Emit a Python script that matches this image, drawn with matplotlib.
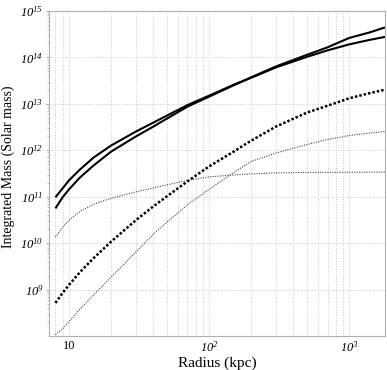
import matplotlib
matplotlib.use("Agg")
import matplotlib.pyplot as plt
from matplotlib.ticker import LogLocator, NullFormatter, FixedLocator, FixedFormatter

plt.rcParams['font.family'] = ['Liberation Serif', 'DejaVu Serif']
plt.rcParams['mathtext.fontset'] = 'custom'
plt.rcParams['mathtext.rm'] = 'Liberation Serif:italic'
plt.rcParams['mathtext.it'] = 'Liberation Serif:italic'
plt.rcParams['mathtext.default'] = 'it'

# radius in kpc, masses in solar masses
radius = [8, 9, 10, 12, 15, 20, 30, 40, 50, 70, 100, 150, 200, 300, 500, 700, 1000, 1400, 1800]

mass_a = [9.7e10, 1.51e11, 2.25e11, 3.87e11, 7.0e11, 1.27e12, 2.53e12, 3.95e12, 5.58e12, 9.4e12,
          1.50e13, 2.58e13, 3.65e13, 6.1e13, 1.03e14, 1.42e14, 1.91e14, 2.39e14, 2.77e14]
mass_b = [5.6e10, 9.7e10, 1.44e11, 2.61e11, 4.72e11, 9.4e11, 1.98e12, 3.24e12, 4.81e12, 8.7e12,
          1.43e13, 2.52e13, 3.74e13, 6.4e13, 1.14e14, 1.65e14, 2.63e14, 3.46e14, 4.43e14]
mass_c = [5.15e8, 8.45e8, 1.26e9, 2.39e9, 4.77e9, 1.08e10, 3.12e10, 6.2e10, 1.02e11, 2.14e11,
          4.49e11, 9.4e11, 1.62e12, 3.24e12, 6.5e12, 9.1e12, 1.32e13, 1.70e13, 2.02e13]
mass_d = [1.35e10, 2.20e10, 3.12e10, 4.86e10, 6.87e10, 9.25e10, 1.27e11, 1.55e11, 1.80e11, 2.25e11,
          2.67e11, 2.95e11, 3.10e11, 3.26e11, 3.34e11, 3.34e11, 3.36e11, 3.38e11, 3.39e11]
mass_e = [1.06e8, 1.43e8, 2.02e8, 3.84e8, 7.66e8, 1.86e9, 6.4e9, 1.56e10, 2.82e10, 6.7e10,
          1.44e11, 3.34e11, 5.75e11, 8.75e11, 1.33e12, 1.71e12, 2.08e12, 2.35e12, 2.53e12]

xticks = [10, 100, 1000]
xticklabels = ['10', '$10^{2}$', '$10^{3}$']
yticks = [1e9, 1e10, 1e11, 1e12, 1e13, 1e14, 1e15]
yticklabels = ['$10^{9}$', '$10^{10}$', '$10^{11}$', '$10^{12}$', '$10^{13}$', '$10^{14}$', '$10^{15}$']

fig = plt.figure(figsize=(3.87, 3.70), dpi=100)
ax = fig.add_axes([49 / 387, 1 - 336 / 370, (385 - 49) / 387, (336 - 11) / 370])

ax.plot(radius, mass_a, color='black', lw=1.5, solid_capstyle='butt')
ax.plot(radius, mass_b, color='black', lw=1.5, solid_capstyle='butt')
ax.plot(radius, mass_c, color='black', lw=1.8, linestyle=(0, (1, 0.8)), dash_capstyle='butt')
ax.plot(radius, mass_d, color='#444444', lw=0.8, linestyle=(0, (1, 1.2)), dash_capstyle='butt')
ax.plot(radius, mass_e, color='#444444', lw=0.8, linestyle=(0, (1, 1.2)), dash_capstyle='butt')

ax.set_xscale('log')
ax.set_yscale('log')
ax.set_xlim(7.2, 1800)
ax.set_ylim(1e8, 1e15)

ax.xaxis.set_major_locator(FixedLocator(xticks))
ax.xaxis.set_major_formatter(FixedFormatter(xticklabels))
ax.xaxis.set_minor_locator(LogLocator(base=10, subs=range(2, 10)))
ax.xaxis.set_minor_formatter(NullFormatter())
ax.yaxis.set_major_locator(FixedLocator(yticks))
ax.yaxis.set_major_formatter(FixedFormatter(yticklabels))
ax.yaxis.set_minor_locator(LogLocator(base=10, subs=range(2, 10)))
ax.yaxis.set_minor_formatter(NullFormatter())

ax.grid(True, which='major', axis='both', color='#c8c8c8', linestyle=':', lw=0.7)
ax.grid(True, which='minor', axis='x', color='#c8c8c8', linestyle=':', lw=0.7)

ax.tick_params(axis='x', which='both', length=0, pad=3, labelsize=9)
ax.tick_params(axis='y', which='major', length=2.5, direction='out', color='#b0b0b0', pad=1.5, labelsize=9)
ax.tick_params(axis='y', which='minor', length=1.8, direction='out', color='#b0b0b0')

for s in ax.spines.values():
    s.set_color('#b0b0b0')
    s.set_linewidth(0.8)

ax.set_xlabel('Radius (kpc)', fontsize=11)
ax.xaxis.set_label_coords(0.5, -0.062)
ax.set_ylabel('Integrated Mass (Solar mass)', fontsize=10)
ax.yaxis.set_label_coords(-0.101, 0.52)

fig.savefig('out.png', dpi=100)
